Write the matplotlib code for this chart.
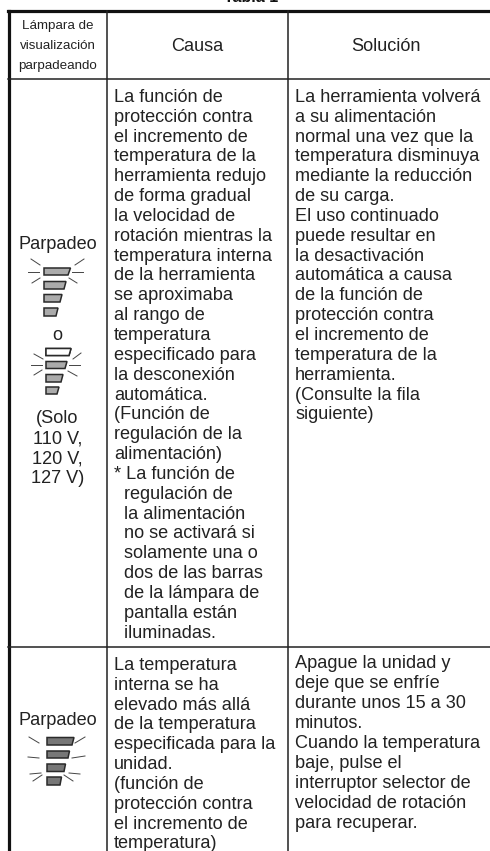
import matplotlib
matplotlib.use('Agg')
import matplotlib.pyplot as plt
from matplotlib.patches import Polygon

plt.rcParams['font.family'] = ['Liberation Sans', 'DejaVu Sans']

# Table text
title = 'Tabla 1'
header_lamp = ['Lámpara de', 'visualización', 'parpadeando']
header_cause = 'Causa'
header_solution = 'Solución'
cause_1 = ['La función de', 'protección contra', 'el incremento de', 'temperatura de la',
           'herramienta redujo', 'de forma gradual', 'la velocidad de', 'rotación mientras la',
           'temperatura interna', 'de la herramienta', 'se aproximaba', 'al rango de',
           'temperatura', 'especificado para', 'la desconexión', 'automática.',
           '(Función de', 'regulación de la', 'alimentación)', '* La función de',
           '  regulación de', '  la alimentación', '  no se activará si', '  solamente una o',
           '  dos de las barras', '  de la lámpara de', '  pantalla están', '  iluminadas.']
solution_1 = ['La herramienta volverá', 'a su alimentación', 'normal una vez que la',
              'temperatura disminuya', 'mediante la reducción', 'de su carga.',
              'El uso continuado', 'puede resultar en', 'la desactivación',
              'automática a causa', 'de la función de', 'protección contra',
              'el incremento de', 'temperatura de la', 'herramienta.',
              '(Consulte la fila', 'siguiente)']
cause_2 = ['La temperatura', 'interna se ha', 'elevado más allá', 'de la temperatura',
           'especificada para la', 'unidad.', '(función de', 'protección contra',
           'el incremento de', 'temperatura)']
solution_2 = ['Apague la unidad y', 'deje que se enfríe', 'durante unos 15 a 30',
              'minutos.', 'Cuando la temperatura', 'baje, pulse el',
              'interruptor selector de', 'velocidad de rotación', 'para recuperar.']
status_top = ['Parpadeo']
status_or = ['o']
status_volt = ['(Solo', '110 V,', '120 V,', '127 V)']

PITCH = 19.85
FS = 13.1
INK = '#222222'

fig = plt.figure(figsize=(4.9, 8.51), dpi=100)
ax = fig.add_axes([0, 0, 1, 1])
ax.set_xlim(0, 490)
ax.set_ylim(851, 0)
ax.axis('off')


def block(lines, x, y, ha='left', pitch=PITCH, fs=FS):
    for i, s in enumerate(lines):
        ax.text(x, y + 1.3 + i * pitch, s, ha=ha, va='center', fontsize=fs, color=INK)


def bars(x, tops, fill):
    # tops: (right end top, right end bottom, y top, y bottom), in pixels
    for rt, rb, y0, y1 in tops:
        ax.add_patch(Polygon([(x, y0), (rt, y0), (rb, y1), (x, y1)], closed=True,
                             facecolor=fill, edgecolor='#2a2a2a', lw=1.1))


def rays(segs):
    for x0, y0, x1, y1 in segs:
        ax.plot([x0, x1], [y0, y1], color='#444444', lw=0.7)


# grid lines
ax.plot([8.5, 8.5], [11, 851], color='#111111', lw=2.3)
ax.plot([8, 490], [11, 11], color='#111111', lw=2.3)
ax.plot([106.5, 106.5], [11, 851], color='#222222', lw=1.1)
ax.plot([287.5, 287.5], [11, 851], color='#222222', lw=1.1)
ax.plot([8, 490], [78.5, 78.5], color='#222222', lw=1.1)
ax.plot([8, 490], [646.5, 646.5], color='#222222', lw=1.1)

ax.text(251, 2.5, title, ha='center', va='baseline', fontsize=11.5, fontweight='bold', color='#111111')

# header
block(header_lamp, 57.5, 25, ha='center', pitch=19.9, fs=9.6)
block([header_cause], 197, 45, ha='center')
block([header_solution], 386, 45, ha='center')

# body text
block(cause_1, 114, 96)
block(solution_1, 295, 96)
block(cause_2, 114, 664)
block(solution_2, 295, 662.5, pitch=20)

block(status_top, 57.5, 243, ha='center')
block(status_or, 57.5, 334, ha='center')
block(status_volt, 57.5, 417, ha='center', pitch=20.2)
block(status_top, 57.5, 719, ha='center')

# lamp icons
bars(44, [(70.5, 68, 268, 275), (66, 64, 281.5, 289), (62, 60, 294.5, 302), (58, 56, 308, 316)], '#ababab')
rays([(31, 259, 40, 265), (28, 272, 39, 272), (32, 283, 40, 278),
      (75, 265, 84, 259), (72, 272, 83, 272), (69, 278, 77, 283)])

bars(46, [(71, 69, 348.5, 355.5), (67, 65, 361.5, 368.5), (63, 61, 374.5, 382), (59, 57, 387, 394)], '#ababab')
ax.add_patch(Polygon([(46, 348.5), (71, 348.5), (69, 355.5), (46, 355.5)], closed=True,
                     facecolor='white', edgecolor='#2a2a2a', lw=1.1))
rays([(34, 354, 43, 359), (31, 365, 42, 365), (34, 375, 42, 370),
      (73, 359, 81, 353), (69, 365, 80, 365), (68, 371, 77, 376)])

bars(47, [(74, 72, 737.5, 745), (69.5, 68, 751, 758), (65.5, 64, 764, 771.5), (61.5, 60, 777, 785)], '#777777')
rays([(29, 737, 39, 743), (28, 757, 39, 758), (30, 774, 41, 773), (33, 781, 42, 775),
      (75, 743, 85, 737), (72, 758, 85, 756), (69, 773, 80, 774), (64, 775, 73, 781)])

plt.savefig('out.png', dpi=100)
